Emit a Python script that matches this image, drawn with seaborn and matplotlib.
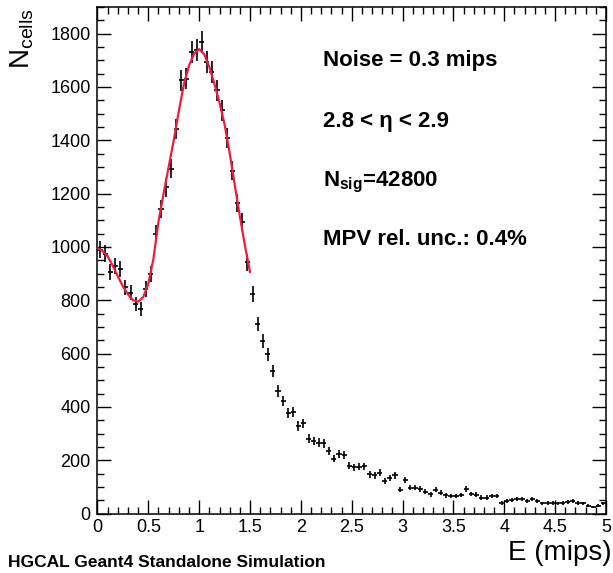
import numpy as np
import matplotlib
matplotlib.use("Agg")
import matplotlib.pyplot as plt
from matplotlib.ticker import MultipleLocator, FuncFormatter
import seaborn as sns

# ==========================
# Data
# ==========================
bin_width = 0.05
bin_centers = np.arange(100) * bin_width + bin_width / 2
counts = [
    990, 975, 907, 929, 917, 848, 829, 786, 767, 842,
    898, 1049, 1143, 1224, 1293, 1443, 1625, 1631, 1731, 1740,
    1769, 1694, 1656, 1587, 1512, 1408, 1286, 1164, 1093, 942,
    823, 710, 648, 598, 535, 460, 422, 378, 381, 328,
    338, 281, 272, 266, 263, 234, 206, 222, 218, 180,
    174, 175, 178, 147, 143, 153, 121, 134, 143, 90,
    124, 97, 97, 92, 82, 72, 90, 78, 68, 66,
    65, 70, 92, 74, 71, 60, 60, 65, 65, 40,
    46, 50, 53, 55, 46, 53, 46, 38, 40, 40,
    38, 40, 43, 46, 40, 38, 30, 25, 30, 38,
]

# fitted curve (red)
fit_x = [0.0, 0.05, 0.1, 0.15, 0.2, 0.25, 0.3, 0.35, 0.4, 0.45,
         0.5, 0.55, 0.6, 0.65, 0.7, 0.75, 0.8, 0.85, 0.9, 0.95,
         1.0, 1.05, 1.1, 1.15, 1.2, 1.25, 1.3, 1.35, 1.4, 1.45, 1.5]
fit_y = [995, 985, 965, 930, 890, 852, 822, 800, 795, 812,
         862, 955, 1095, 1200, 1300, 1400, 1510, 1610, 1680, 1725,
         1742, 1722, 1675, 1612, 1540, 1460, 1352, 1232, 1115, 1005, 905]

labels = ["Noise = 0.3 mips", "2.8 < \u03b7 < 2.9",
          r"$\mathbf{N_{sig}}$=42800", "MPV rel. unc.: 0.4%"]

# ==========================
# Style
# ==========================
sns.set_theme(style="ticks")
plt.rcParams["font.family"] = ["Liberation Sans", "DejaVu Sans"]
plt.rcParams["mathtext.fontset"] = "custom"
plt.rcParams["mathtext.rm"] = "Liberation Sans"
plt.rcParams["mathtext.bf"] = "Liberation Sans:bold"
plt.rcParams["mathtext.it"] = "Liberation Sans:italic"
for key in ["text.color", "axes.labelcolor", "xtick.color", "ytick.color", "axes.edgecolor"]:
    plt.rcParams[key] = "black"

fig = plt.figure(figsize=(6.13, 5.73), dpi=100)
ax = fig.add_axes([0.159, 0.1038, 0.9886 - 0.159, 0.9878 - 0.1038])

# histogram points with stat. errors
ax.errorbar(bin_centers, counts, xerr=bin_width / 2, yerr=np.sqrt(counts),
            fmt="none", ecolor="black", elinewidth=1.2, capsize=0, zorder=3)

# fit curve
sns.lineplot(x=fit_x, y=fit_y, color="#ee1d3f", linewidth=1.6, ax=ax, zorder=4)

ax.set_xlim(0, 5)
ax.set_ylim(0, 1900)
ax.xaxis.set_major_locator(MultipleLocator(0.5))
ax.xaxis.set_minor_locator(MultipleLocator(0.1))
ax.yaxis.set_major_locator(MultipleLocator(200))
ax.yaxis.set_minor_locator(MultipleLocator(50))
ax.xaxis.set_major_formatter(FuncFormatter(lambda v, p: f"{v:g}"))
ax.tick_params(which="both", direction="in", top=True, right=True,
               labelsize=13, width=1.0, colors="black")
ax.tick_params(which="major", length=10)
ax.tick_params(which="minor", length=5)
ax.tick_params(axis="x", pad=4)
ax.tick_params(axis="y", pad=5)
for s in ax.spines.values():
    s.set_linewidth(1.1)
    s.set_color("black")

# text boxes
baselines = [66, 126.5, 186.5, 245]
for lab, b in zip(labels, baselines):
    fig.text(322.7 / 613, 1 - b / 573, lab, fontsize=16, fontweight="bold",
             ha="left", va="baseline")

fig.text(22 / 613, 1 - 8 / 573, r"$\mathrm{N_{cells}}$", rotation=90,
         fontsize=20, ha="center", va="top")
fig.text(612 / 613, 1 - 560 / 573, "E (mips)", fontsize=20,
         ha="right", va="baseline")
fig.text(8 / 613, 1 - 567 / 573, "HGCAL Geant4 Standalone Simulation",
         fontsize=12.5, fontweight="bold", ha="left", va="baseline")

fig.savefig("out.png", dpi=100)
